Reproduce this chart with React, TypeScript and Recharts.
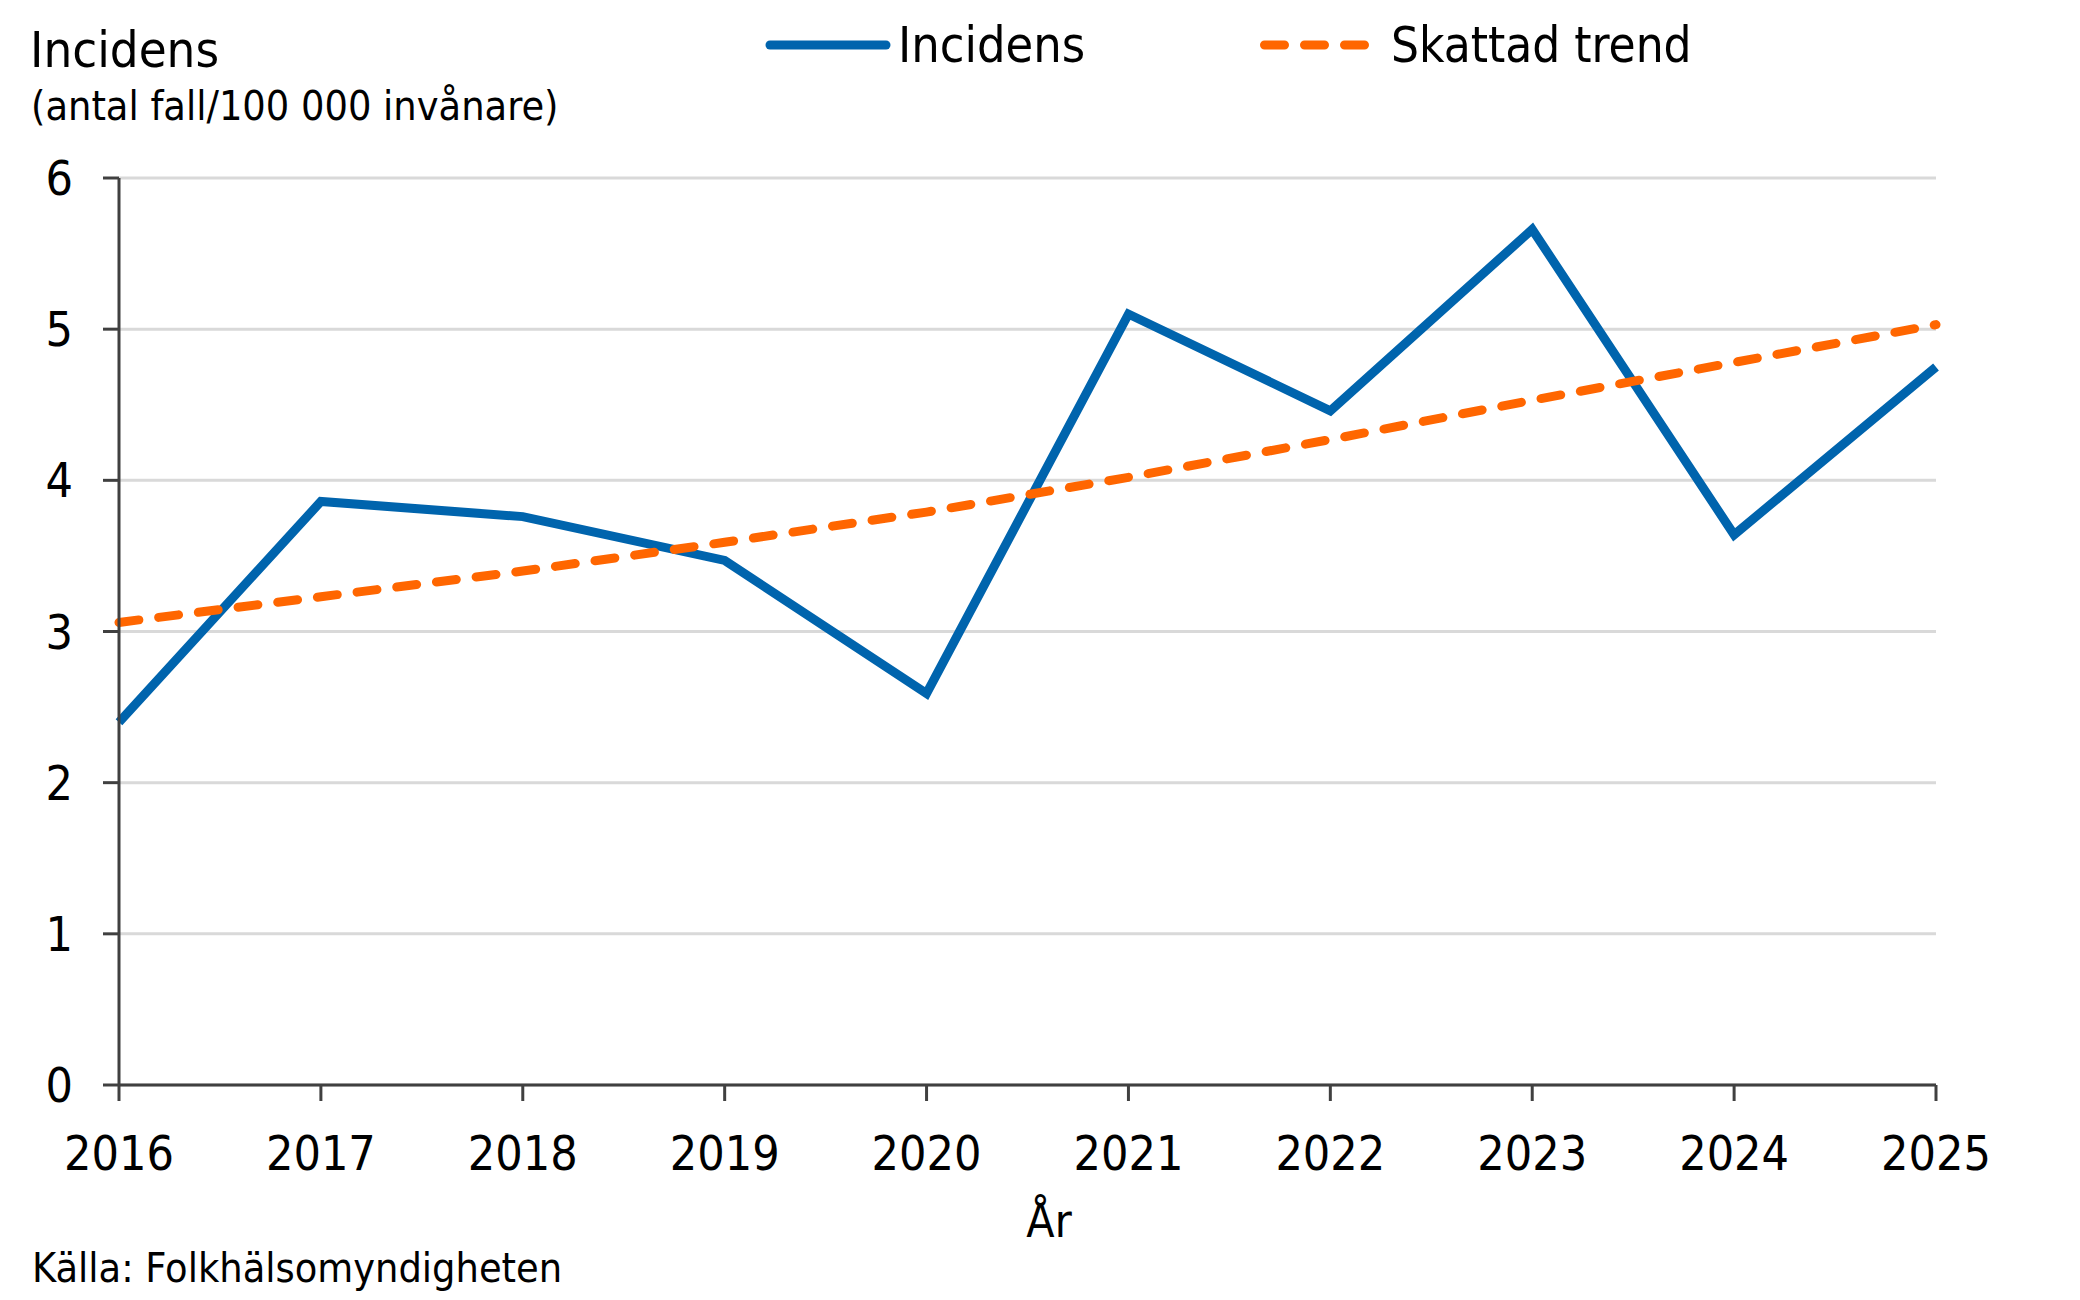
import React from 'react';
import { LineChart, Line, XAxis, YAxis, CartesianGrid } from 'recharts';

const years = ['2016', '2017', '2018', '2019', '2020', '2021', '2022', '2023', '2024', '2025'];
const incidens = [2.40, 3.86, 3.76, 3.47, 2.59, 5.10, 4.46, 5.66, 3.64, 4.75];
const skattadTrend = [3.06, 3.23, 3.40, 3.59, 3.79, 4.02, 4.27, 4.53, 4.78, 5.03];
const yTicks = [0, 1, 2, 3, 4, 5, 6];

const data = years.map((year, i) => ({ year, incidens: incidens[i], trend: skattadTrend[i] }));

const FONT = "'DejaVu Sans Condensed', 'DejaVu Sans', sans-serif";
const BLUE = '#0064AD';
const ORANGE = '#FF6600';
const AXIS = '#404040';

export default function App() {
  return (
    <div style={{ position: 'absolute', left: 0, top: 0, width: 2080, height: 1300, background: '#fff', fontFamily: FONT, fontStretch: 'condensed' }}>
      <LineChart
        width={2080}
        height={1300}
        data={data}
        margin={{ top: 178, right: 144, bottom: 50, left: 0 }}
      >
        <CartesianGrid vertical={false} stroke="#d9d9d9" strokeWidth={3} />
        <XAxis
          dataKey="year"
          interval={0}
          height={165}
          tickSize={16}
          tickMargin={35}
          axisLine={{ stroke: AXIS, strokeWidth: 3 }}
          tickLine={{ stroke: AXIS, strokeWidth: 3 }}
          tick={{ fill: '#000', fontSize: 48, fontFamily: FONT, fontStretch: 'condensed' }}
        />
        <YAxis
          domain={[0, 6]}
          ticks={yTicks}
          width={119}
          tickSize={16}
          tickMargin={30}
          axisLine={{ stroke: AXIS, strokeWidth: 3 }}
          tickLine={{ stroke: AXIS, strokeWidth: 3 }}
          tick={{ fill: '#000', fontSize: 48, fontFamily: FONT, fontStretch: 'condensed' }}
        />
        <Line
          type="linear"
          dataKey="incidens"
          stroke={BLUE}
          strokeWidth={9}
          dot={false}
          activeDot={false}
          isAnimationActive={false}
        />
        <Line
          type="linear"
          dataKey="trend"
          stroke={ORANGE}
          strokeWidth={9}
          strokeDasharray="20 20"
          strokeLinecap="round"
          dot={false}
          activeDot={false}
          isAnimationActive={false}
        />
      </LineChart>
      <svg
        width={2080}
        height={1300}
        style={{ position: 'absolute', left: 0, top: 0, pointerEvents: 'none' }}
        fontFamily={FONT}
      >
        <text x={30} y={67} fontSize={50.5} fill="#000" style={{ fontStretch: 'condensed' }}>Incidens</text>
        <text x={31} y={120} fontSize={41} fill="#000" style={{ fontStretch: 'condensed' }}>(antal fall/100 000 invånare)</text>

        <line x1={770} y1={45} x2={886} y2={45} stroke={BLUE} strokeWidth={9} strokeLinecap="round" />
        <text x={898} y={62} fontSize={50} fill="#000" style={{ fontStretch: 'condensed' }}>Incidens</text>
        <line x1={1264.5} y1={45} x2={1364.5} y2={45} stroke={ORANGE} strokeWidth={9} strokeDasharray="20 20" strokeLinecap="round" />
        <text x={1391} y={62} fontSize={49} fill="#000" style={{ fontStretch: 'condensed' }}>Skattad trend</text>

        <text x={1049} y={1237} fontSize={46} fill="#000" textAnchor="middle" style={{ fontStretch: 'condensed' }}>År</text>
        <text x={32} y={1282} fontSize={41} fill="#000" style={{ fontStretch: 'condensed' }}>Källa: Folkhälsomyndigheten</text>
      </svg>
    </div>
  );
}
